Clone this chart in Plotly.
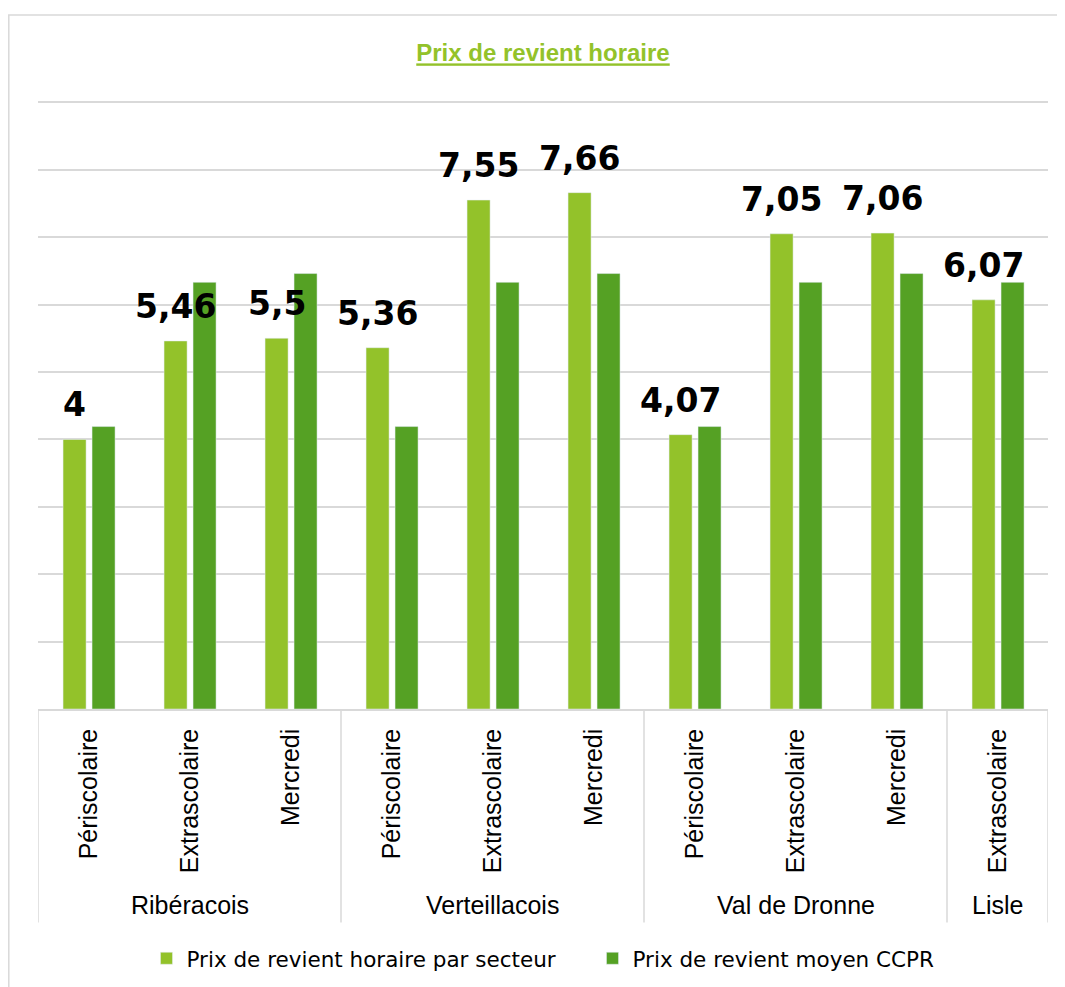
import plotly.graph_objects as go

groups = ["Ribéracois"] * 3 + ["Verteillacois"] * 3 + ["Val de Dronne"] * 3 + ["Lisle"]
activites = ["Périscolaire", "Extrascolaire", "Mercredi"] * 3 + ["Extrascolaire"]
prix_secteur = [4, 5.46, 5.5, 5.36, 7.55, 7.66, 4.07, 7.05, 7.06, 6.07]
prix_moyen_ccpr = [4.19, 6.33, 6.46, 4.19, 6.33, 6.46, 4.19, 6.33, 6.46, 6.33]

light_green = "#93C22A"
dark_green = "#55A124"
grid = "#D9D9D9"
narrow = "Liberation Sans Narrow, Arial Narrow, Liberation Sans, sans-serif"

x = list(range(len(activites)))
bar_w = 0.228

fig = go.Figure()
fig.add_trace(go.Bar(
    x=x, y=prix_secteur, name="Prix de revient horaire par secteur",
    marker=dict(color=light_green), width=bar_w, offset=-0.252,
))
fig.add_trace(go.Bar(
    x=x, y=prix_moyen_ccpr, name="Prix de revient moyen CCPR",
    marker=dict(color=dark_green), width=bar_w, offset=0.035,
))

# value labels above the light bars
annotations = []
for i, v in enumerate(prix_secteur):
    annotations.append(dict(
        x=i - 0.252 + bar_w / 2, y=v, xref="x", yref="y",
        text=f"{v:g}".replace(".", ","), showarrow=False,
        yanchor="bottom", yshift=13,
        font=dict(family="DejaVu Sans", size=33, color="black", weight="bold"),
    ))

# group labels and separators
bounds = [0]
for i in range(1, len(groups)):
    if groups[i] != groups[i - 1]:
        bounds.append(i)
bounds.append(len(groups))

shapes = []
for b in bounds:
    shapes.append(dict(type="line", xref="x", yref="paper", x0=b - 0.5, x1=b - 0.5,
                       y0=0, y1=-0.351, line=dict(color=grid, width=1.5)))
for s, e in zip(bounds[:-1], bounds[1:]):
    annotations.append(dict(
        x=(s + e - 1) / 2, y=-0.323, xref="x", yref="paper",
        text=groups[s], showarrow=False, yanchor="middle",
        font=dict(family=narrow, size=25, color="black"),
    ))

# outer chart frame
shapes.append(dict(type="rect", xref="paper", yref="paper",
                   x0=(0.8 - 30) / 1010, x1=1.1, y0=-0.6, y1=(701 - 7) / 608,
                   line=dict(color=grid, width=1.5), layer="below"))

fig.update_layout(
    width=1057, height=979,
    margin=dict(l=30, r=17, t=93, b=278, autoexpand=False),
    paper_bgcolor="white", plot_bgcolor="white",
    barmode="overlay",
    title=dict(text="<b><u>Prix de revient horaire</u></b>", x=0.5, xref="paper",
               y=1 - 45 / 979, yanchor="middle",
               font=dict(family=narrow, size=24, color=light_green)),
    legend=dict(orientation="h", x=0.549, xanchor="center", y=-0.41, yanchor="middle",
                entrywidth=401,
                font=dict(family="DejaVu Sans", size=21.5, color="black")),
    annotations=annotations,
    shapes=shapes,
)
fig.update_xaxes(
    range=[-0.5, len(x) - 0.5], tickvals=x, ticktext=activites, tickangle=-90,
    tickfont=dict(family=narrow, size=25, color="black"),
    showgrid=False, zeroline=False, showline=True, linecolor=grid, linewidth=1.5,
    ticks="", ticklabelstandoff=8,
)
fig.update_yaxes(
    range=[0, 9.02], dtick=1, showgrid=True, gridcolor=grid, gridwidth=1.5,
    showticklabels=False, zeroline=False,
)

fig.write_html("out.html")
